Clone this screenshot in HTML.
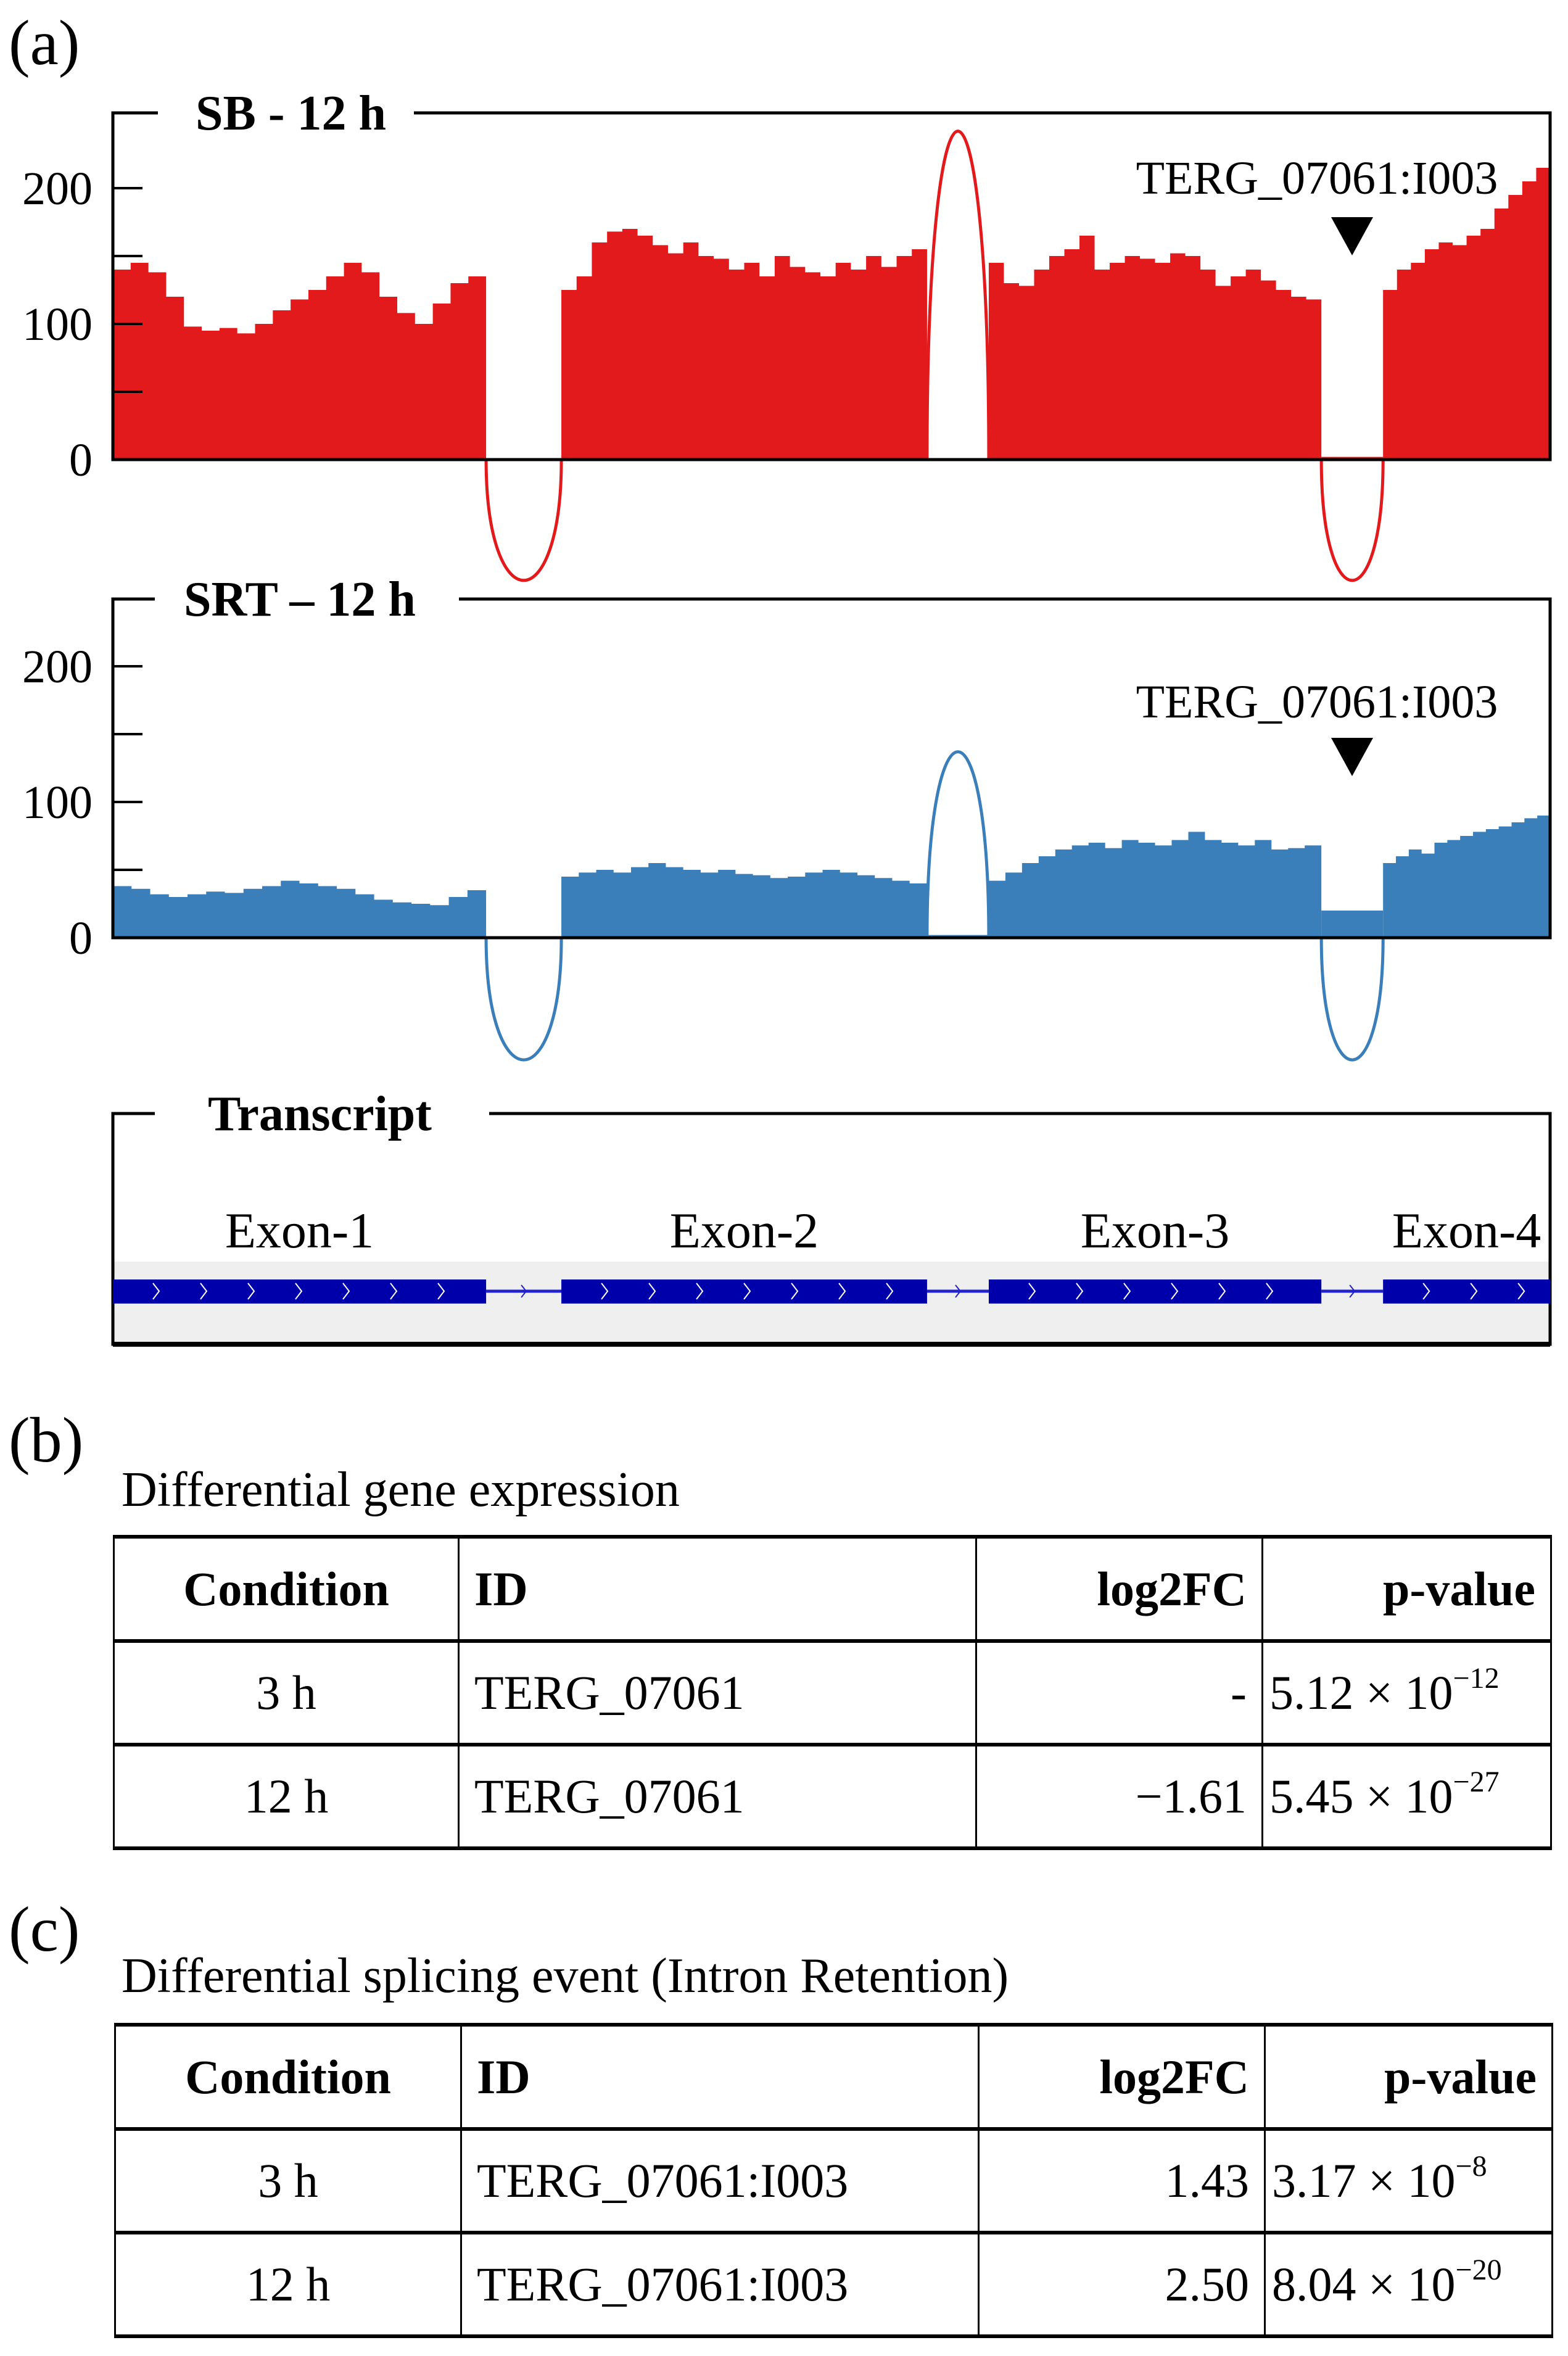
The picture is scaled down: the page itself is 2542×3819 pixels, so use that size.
<!DOCTYPE html>
<html><head><meta charset="utf-8">
<style>
html,body{margin:0;padding:0;background:#fff;}
body{width:2542px;height:3819px;position:relative;overflow:hidden;font-family:"Liberation Serif",serif;color:#000;}
.abs{position:absolute;}
table{position:absolute;border-collapse:collapse;font-size:78px;table-layout:fixed;}
td,th{border-left:3px solid #000;border-right:3px solid #000;border-top:6px solid #000;border-bottom:6px solid #000;padding:0 24px;white-space:nowrap;}
th{font-weight:bold;}
sup{font-size:48px;vertical-align:34px;line-height:0;}
</style></head><body>
<svg id="chart" class="abs" style="left:0;top:0" width="2542" height="3819"></svg>

<div class="abs" style="left:14px;top:10px;font-size:104px;">(a)</div>
<div class="abs" style="left:14px;top:2275px;font-size:104px;">(b)</div>
<div class="abs" style="left:197px;top:2370px;font-size:80px;">Differential gene expression</div>
<table style="left:183px;top:2488px;width:2330px;">
<colgroup><col style="width:559px"><col style="width:839px"><col style="width:464px"><col style="width:468px"></colgroup>
<tr style="height:169px"><th style="text-align:center">Condition</th><th style="text-align:left">ID</th><th style="text-align:right">log2FC</th><th style="text-align:right">p-value</th></tr>
<tr style="height:168px"><td style="text-align:center">3 h</td><td>TERG_07061</td><td style="text-align:right">-</td><td style="padding:0 10px">5.12 × 10<sup>−12</sup></td></tr>
<tr style="height:168px"><td style="text-align:center">12 h</td><td>TERG_07061</td><td style="text-align:right">−1.61</td><td style="padding:0 10px">5.45 × 10<sup>−27</sup></td></tr>
</table>

<div class="abs" style="left:14px;top:3068px;font-size:104px;">(c)</div>
<div class="abs" style="left:197px;top:3158px;font-size:80px;">Differential splicing event (Intron Retention)</div>
<table style="left:185px;top:3279px;width:2330px;">
<colgroup><col style="width:561px"><col style="width:839px"><col style="width:464px"><col style="width:466px"></colgroup>
<tr style="height:169px"><th style="text-align:center">Condition</th><th style="text-align:left">ID</th><th style="text-align:right">log2FC</th><th style="text-align:right">p-value</th></tr>
<tr style="height:168px"><td style="text-align:center">3 h</td><td>TERG_07061:I003</td><td style="text-align:right">1.43</td><td style="padding:0 10px">3.17 × 10<sup>−8</sup></td></tr>
<tr style="height:168px"><td style="text-align:center">12 h</td><td>TERG_07061:I003</td><td style="text-align:right">2.50</td><td style="padding:0 10px">8.04 × 10<sup>−20</sup></td></tr>
</table>

<script>
// genomic coordinate data (arbitrary units)
const exonStarts = [0, 298, 582, 844];
const exonEnds = [248, 541, 803, 955];
const exonNames = ["Exon-1","Exon-2","Exon-3","Exon-4"];
const yTicks = [0, 100, 200];
const yMinorTicks = [50, 150];
// SB coverage per exon
const sbExon1 = [140,145,138,120,98,95,97,93,100,110,118,125,135,145,138,120,108,100,115,130,135];
const sbExon2 = [125,135,160,168,170,165,158,152,160,150,148,140,145,135,150,142,138,135,145,140,150,142,150,155];
const sbExon3 = [145,130,128,140,150,155,165,140,145,150,148,145,152,150,140,128,135,140,132,125,120,118];
const sbExon4 = [125,140,145,155,160,158,165,170,185,195,205,215];
const sbIntronCov = [1, 0, 2];
const sbJunctions = [-89, 242, -89];
// SRT coverage per exon
const srtExon1 = [38,36,32,30,32,34,33,36,38,42,40,38,36,32,28,26,25,24,30,35];
const srtExon2 = [45,48,50,48,52,55,52,50,48,50,47,46,44,45,48,50,48,46,44,42,40];
const srtExon3 = [42,48,55,60,65,68,70,66,72,70,68,72,78,72,70,68,72,65,66,68];
const srtExon4 = [55,60,65,62,70,72,75,78,80,82,85,88,90];
const srtIntronCov = [0, 2, 20];
const srtJunctions = [-90, 137, -90];

const NS="http://www.w3.org/2000/svg";
const svg=document.getElementById('chart');
const X0=183,X1=2513,PMAX=955;
function xs(p){return X0+p*(X1-X0)/PMAX;}
function mk(tag,attrs,parent){const e=document.createElementNS(NS,tag);for(const k in attrs)e.setAttribute(k,attrs[k]);(parent||svg).appendChild(e);return e;}

function track(cfg){
  const base=cfg.base, scale=2.2;
  const ys=v=>base-v*scale;
  const g=mk('g',{});
  
  
  let d='';
  cfg.exons.forEach((vals,i)=>{
    const s=exonStarts[i],e=exonEnds[i],w=(e-s)/vals.length;
    d+='M'+xs(s)+','+base;
    vals.forEach((v,j)=>{d+=' L'+xs(s+j*w)+','+ys(v)+' L'+xs(s+(j+1)*w)+','+ys(v);});
    d+=' L'+xs(e)+','+base+'Z ';
  });
  const cov=mk('path',{d:d,fill:cfg.color},g);
  
  
  cfg.intron.forEach((v,i)=>{
    const r=mk('rect',{x:xs(exonEnds[i]),y:ys(Math.max(v,1)),width:xs(exonStarts[i+1])-xs(exonEnds[i]),height:Math.max(v,1)*scale,fill:cfg.color},g);
    
    
  });
  cfg.junc.forEach((h,i)=>{
    const a=xs(exonEnds[i]),b=xs(exonStarts[i+1]);
    const cy=base-h*scale*4/3;
    const p=mk('path',{d:`M${a},${base} C${a},${cy} ${b},${cy} ${b},${base}`,fill:'none',stroke:cfg.color,'stroke-width':5},g);
    
    
  });
  const top=cfg.top;
  mk('path',{d:`M${cfg.gap[0]},${top} H${X0} V${base} H${X1} V${top} H${cfg.gap[1]}`,fill:'none',stroke:'#000','stroke-width':5},g);
  yTicks.concat(yMinorTicks).forEach(t=>{mk('line',{x1:X0,x2:X0+48,y1:ys(t),y2:ys(t),stroke:'#000','stroke-width':4},g);});
  yTicks.forEach(t=>{
    const tx=mk('text',{x:150,y:ys(t)+26,'text-anchor':'end','font-size':76,'font-family':'Liberation Serif'},g);
    tx.textContent=t;
    
    
  });
  const ti=mk('text',{x:cfg.titleX,y:top+27,'font-size':80,'font-weight':'bold','font-family':'Liberation Serif'},g);
  ti.textContent=cfg.title;
  
  
  const lb=mk('text',{x:2135,y:cfg.labelY,'text-anchor':'middle','font-size':76,'font-family':'Liberation Serif'},g);
  lb.textContent='TERG_07061:I003';
  
  
  const tri=mk('path',{d:`M2158,${cfg.triY} H2226 L2192,${cfg.triY+62}Z`,fill:'#000'},g);
  
  
}
track({name:'sb-12h-track',base:745,top:183,color:'#e31a1c',exons:[sbExon1,sbExon2,sbExon3,sbExon4],intron:sbIntronCov,junc:sbJunctions,gap:[256,671],titleX:317,title:'SB - 12 h',labelY:314,triY:352});
track({name:'srt-12h-track',base:1520,top:971,color:'#3a7fba',exons:[srtExon1,srtExon2,srtExon3,srtExon4],intron:srtIntronCov,junc:srtJunctions,gap:[251,744],titleX:298,title:'SRT – 12 h',labelY:1163,triY:1196});

const tg=mk('g',{});


mk('rect',{x:X0,y:2045,width:X1-X0,height:134,fill:'#efefef'},tg);
mk('path',{d:`M251,1805 H${X0} V2179 H${X1} V1805 H793`,fill:'none',stroke:'#000','stroke-width':5},tg);
mk('line',{x1:X0,x2:X1,y1:2179,y2:2179,stroke:'#000','stroke-width':8},tg);
const tt=mk('text',{x:337,y:1832,'font-size':80,'font-weight':'bold','font-family':'Liberation Serif'},tg);
tt.textContent='Transcript';
for(let i=0;i<exonStarts.length-1;i++){
  const l=mk('line',{x1:xs(exonEnds[i]),x2:xs(exonStarts[i+1]),y1:2093,y2:2093,stroke:'#2222cc','stroke-width':5},tg);
  
  
  const m=(xs(exonEnds[i])+xs(exonStarts[i+1]))/2;
  mk('path',{d:`M${m-4},2083 L${m+4},2093 L${m-4},2103`,fill:'none',stroke:'#2222cc','stroke-width':2},tg);
}
exonStarts.forEach((s,i)=>{
  const a=xs(s),b=xs(exonEnds[i]);
  const r=mk('rect',{x:a,y:2074,width:b-a,height:39,fill:'#0000aa'},tg);
  
  
  for(let x=a+70;x<b-20;x+=77){mk('path',{d:`M${x-5},2080 L${x+5},2093 L${x-5},2106`,fill:'none',stroke:'#fff','stroke-width':2},tg);}
  const t=mk('text',{x:Math.min((a+b)/2, 2440),y:2022,'text-anchor':'middle','font-size':82,'font-family':'Liberation Serif'},tg);
  t.textContent=exonNames[i];
  
  
});
</script>
</body></html>
